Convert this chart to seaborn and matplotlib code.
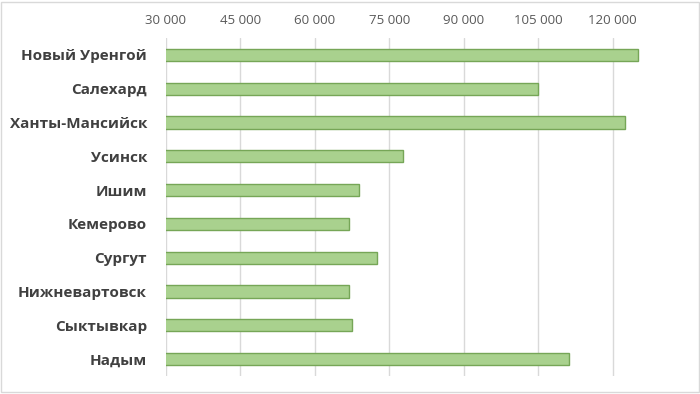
import matplotlib
matplotlib.use("Agg")
import matplotlib.pyplot as plt
import seaborn as sns
import pandas as pd
from matplotlib.ticker import FuncFormatter, MultipleLocator
from matplotlib.patches import Rectangle

cities = ["Новый Уренгой", "Салехард", "Ханты-Мансийск", "Усинск", "Ишим",
          "Кемерово", "Сургут", "Нижневартовск", "Сыктывкар", "Надым"]
values = [125000, 105000, 122400, 77800, 68900, 67000, 72500, 67000, 67500, 111100]

df = pd.DataFrame({"city": cities, "value": values})

sns.set_theme(style="white")
plt.rcParams['font.family'] = ['Open Sans', 'DejaVu Sans']

fig = plt.figure(figsize=(7, 3.94), dpi=100)
ax = fig.add_axes([165.7/700, 1 - 376/394, (650 - 165.7)/700, (376 - 38)/394])

sns.barplot(data=df, x="value", y="city", orient="h", ax=ax, width=0.36,
            color="#a9d18e", edgecolor="#76a657", linewidth=1.0, saturation=1)

ax.set_xlim(30000, 127500)
ax.xaxis.set_major_locator(MultipleLocator(15000))
ax.xaxis.set_major_formatter(FuncFormatter(lambda v, p: f"{int(v):,}".replace(",", " ")))
ax.xaxis.tick_top()
ax.tick_params(axis="x", length=0, pad=8, labelsize=9.5, labelcolor="#595959")
ax.tick_params(axis="y", length=0, pad=13.5, labelsize=11, labelcolor="#404040")
for lbl in ax.get_yticklabels():
    lbl.set_fontweight("bold")
ax.set_xlabel("")
ax.set_ylabel("")
ax.grid(axis="x", color="#d9d9d9", linewidth=1)
ax.set_axisbelow(True)
for s in ax.spines.values():
    s.set_visible(False)

fig.patches.append(Rectangle((0.002, 0.004), 0.996, 0.992, transform=fig.transFigure,
                             fill=False, edgecolor="#d9d9d9", linewidth=1))

fig.savefig("out.png", dpi=100)
